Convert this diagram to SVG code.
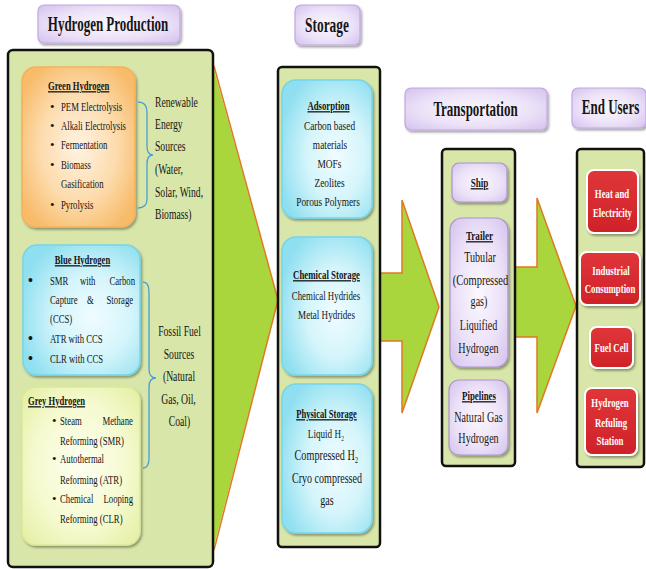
<svg xmlns="http://www.w3.org/2000/svg" width="646" height="569" viewBox="0 0 646 569">
<defs>
<filter id="sh" x="-20%" y="-20%" width="140%" height="140%"><feDropShadow dx="1.5" dy="2" stdDeviation="1.2" flood-color="#000" flood-opacity="0.35"/></filter>
<radialGradient id="gOr" cx="50%" cy="50%" r="60%"><stop offset="0" stop-color="#fff3e2"/><stop offset="0.55" stop-color="#fddcae"/><stop offset="1" stop-color="#f7bb6a"/></radialGradient>
<radialGradient id="gBl" cx="60%" cy="55%" r="65%"><stop offset="0" stop-color="#f0fcff"/><stop offset="0.5" stop-color="#d4f5fb"/><stop offset="1" stop-color="#8fdff0"/></radialGradient>
<radialGradient id="gGr" cx="50%" cy="50%" r="65%"><stop offset="0" stop-color="#fdfff0"/><stop offset="0.6" stop-color="#f5fad0"/><stop offset="1" stop-color="#e6f0a8"/></radialGradient>
<radialGradient id="gLv" cx="50%" cy="50%" r="65%"><stop offset="0" stop-color="#fbf7fe"/><stop offset="0.6" stop-color="#ece2f8"/><stop offset="1" stop-color="#d8c6ef"/></radialGradient>
<linearGradient id="gRd" x1="0" y1="0" x2="0" y2="1"><stop offset="0" stop-color="#e0363a"/><stop offset="1" stop-color="#cf2228"/></linearGradient>
<style>
.pn{fill:#d8e6a9;stroke:#111;stroke-width:2.5}
.ttl{fill:url(#gLv);stroke:#c0a9e0;stroke-width:1.2;filter:url(#sh)}
.or{fill:url(#gOr);stroke:#f5b25a;stroke-width:1.5;filter:url(#sh)}
.bl{fill:url(#gBl);stroke:#74d6ea;stroke-width:1.5;filter:url(#sh)}
.gr{fill:url(#gGr);stroke:#dce99a;stroke-width:1.5;filter:url(#sh)}
.lv{fill:url(#gLv);stroke:#a896c8;stroke-width:1.2;filter:url(#sh)}
.rd{fill:url(#gRd);stroke:#fff;stroke-width:2;filter:url(#sh)}
.af{fill:#a8d63c;stroke:none}
.as{fill:none;stroke:#e07a22;stroke-width:1.5;stroke-linejoin:miter}
.br{fill:none;stroke:#4a9fd2;stroke-width:1.3}
text{font-family:"Liberation Serif","Times New Roman",serif;fill:#151515}
.b{font-weight:bold}
.u{text-decoration:underline}
.c{text-anchor:middle}
.w{fill:#fff;font-weight:bold;font-size:13.5px}
.h{font-size:20px;font-weight:bold}
.s13{font-size:13px}
.s14{font-size:14px}
.s15{font-size:15px}
</style>
</defs>

<g id="connectors">
<polygon class="af" points="213,66 278,300 213,550"/>
<polyline class="as" points="214,66 278,300 214,550"/>
<polygon class="af" points="381,273 402,273 402,200 439,307 402,413 402,341 381,341"/>
<polyline class="as" points="381,273 402,273 402,200 439,307 402,413 402,341 381,341"/>
<polygon class="af" points="516,267 537,267 537,198 576,306 537,413 537,337 516,337"/>
<polyline class="as" points="516,267 537,267 537,198 576,306 537,413 537,337 516,337"/>
</g>

<g id="title-production">
<rect class="ttl" x="38" y="5" width="142" height="38" rx="6"/>
<text class="h c" transform="matrix(.65 0 0 1 108 31)">Hydrogen Production</text>
</g>
<g id="title-storage">
<rect class="ttl" x="295" y="5" width="65" height="40" rx="6"/>
<text class="h c" transform="matrix(.67 0 0 1 327 32)">Storage</text>
</g>
<g id="title-transportation">
<rect class="ttl" x="405" y="88" width="142" height="42" rx="6"/>
<text class="h c" transform="matrix(.65 0 0 1 475.5 116)">Transportation</text>
</g>
<g id="title-endusers">
<rect class="ttl" x="572" y="88" width="74" height="40" rx="6"/>
<text class="h c" transform="matrix(.65 0 0 1 610.5 114)">End Users</text>
</g>

<g id="panel-production">
<rect class="pn" x="8" y="50" width="205" height="517" rx="5"/>
</g>
<g id="panel-storage">
<rect class="pn" x="278" y="67" width="102" height="480" rx="4"/>
</g>
<g id="panel-transportation">
<rect class="pn" x="442" y="149" width="73" height="317" rx="4"/>
</g>
<g id="panel-endusers">
<rect class="pn" x="577" y="149" width="67" height="318" rx="4"/>
</g>

<g id="green-hydrogen">
<rect class="or" x="22" y="67" width="113" height="160" rx="14"/>
<text class="b u s13" transform="matrix(.66 0 0 1 48 90)">Green Hydrogen</text>
<text class="s13" x="50" y="111">•</text>
<text class="s13" x="50" y="130">•</text>
<text class="s13" x="50" y="149">•</text>
<text class="s13" x="50" y="169">•</text>
<text class="s13" x="50" y="209">•</text>
<text class="s13" transform="matrix(.67 0 0 1 61 111)">PEM Electrolysis</text>
<text class="s13" transform="matrix(.67 0 0 1 61 130)">Alkali Electrolysis</text>
<text class="s13" transform="matrix(.67 0 0 1 61 149)">Fermentation</text>
<text class="s13" transform="matrix(.67 0 0 1 61 169)">Biomass</text>
<text class="s13" transform="matrix(.67 0 0 1 61 188)">Gasification</text>
<text class="s13" transform="matrix(.67 0 0 1 61 209)">Pyrolysis</text>
</g>

<g id="renewable-sources">
<path class="br" d="M138,102 Q147,102 147,112 L147,146 Q147,155 153,155 Q147,155 147,164 L147,199 Q147,208 138,208"/>
<text class="s14" transform="matrix(.69 0 0 1 155 107)">Renewable</text>
<text class="s14" transform="matrix(.69 0 0 1 155 129)">Energy</text>
<text class="s14" transform="matrix(.69 0 0 1 155 151)">Sources</text>
<text class="s14" transform="matrix(.69 0 0 1 155 174)">(Water,</text>
<text class="s14" transform="matrix(.69 0 0 1 155 197)">Solar, Wind,</text>
<text class="s14" transform="matrix(.69 0 0 1 155 219)">Biomass)</text>
</g>

<g id="blue-hydrogen">
<rect class="bl" x="23" y="245" width="117" height="130" rx="14"/>
<text class="b u s13 c" transform="matrix(.66 0 0 1 82.5 264)">Blue Hydrogen</text>
<text class="b s14" x="28" y="285">•</text>
<text class="b s14" x="28" y="343">•</text>
<text class="b s14" x="28" y="363">•</text>
<text class="s13" transform="matrix(.67 0 0 1 0 285)"><tspan x="74.6">SMR</tspan> <tspan x="119.4">with</tspan> <tspan x="163.3">Carbon</tspan></text>
<text class="s13" transform="matrix(.67 0 0 1 0 304)"><tspan x="74.6">Capture</tspan> <tspan x="129.9">&amp;</tspan> <tspan x="159">Storage</tspan></text>
<text class="s13" transform="matrix(.67 0 0 1 50 323)">(CCS)</text>
<text class="s13" transform="matrix(.67 0 0 1 50 343)">ATR with CCS</text>
<text class="s13" transform="matrix(.67 0 0 1 50 363)">CLR with CCS</text>
</g>

<g id="grey-hydrogen">
<rect class="gr" x="22" y="387" width="118" height="158" rx="14"/>
<text class="b u s13" transform="matrix(.66 0 0 1 28 405)">Grey Hydrogen</text>
<text class="s13" x="52" y="425">•</text>
<text class="s13" x="52" y="463">•</text>
<text class="s13" x="52" y="503">•</text>
<text class="s13" transform="matrix(.67 0 0 1 0 425)"><tspan x="89.6">Steam</tspan> <tspan x="153">Methane</tspan></text>
<text class="s13" transform="matrix(.67 0 0 1 60 445)">Reforming (SMR)</text>
<text class="s13" transform="matrix(.67 0 0 1 60 463)">Autothermal</text>
<text class="s13" transform="matrix(.67 0 0 1 60 484)">Reforming (ATR)</text>
<text class="s13" transform="matrix(.67 0 0 1 0 503)"><tspan x="89.6">Chemical</tspan> <tspan x="154.5">Looping</tspan></text>
<text class="s13" transform="matrix(.67 0 0 1 60 523)">Reforming (CLR)</text>
</g>

<g id="fossil-sources">
<path class="br" d="M143,282 Q149,282 149,292 L149,369 Q149,378 156,378 Q149,378 149,387 L149,458 Q149,468 143,468"/>
<text class="s14 c" transform="matrix(.69 0 0 1 179.5 336)">Fossil Fuel</text>
<text class="s14 c" transform="matrix(.69 0 0 1 179 359)">Sources</text>
<text class="s14 c" transform="matrix(.69 0 0 1 179 381)">(Natural</text>
<text class="s14 c" transform="matrix(.69 0 0 1 178.5 404)">Gas, Oil,</text>
<text class="s14 c" transform="matrix(.69 0 0 1 179.5 426)">Coal)</text>
</g>

<g id="adsorption">
<rect class="bl" x="282" y="80" width="90" height="138" rx="14"/>
<text class="b u s13 c" transform="matrix(.67 0 0 1 328.5 110)">Adsorption</text>
<text class="s13 c" transform="matrix(.72 0 0 1 329.5 130)">Carbon based</text>
<text class="s13 c" transform="matrix(.72 0 0 1 330 149)">materials</text>
<text class="s13 c" transform="matrix(.72 0 0 1 329.5 168)">MOFs</text>
<text class="s13 c" transform="matrix(.72 0 0 1 329.5 187)">Zeolites</text>
<text class="s13 c" transform="matrix(.72 0 0 1 328 206)">Porous Polymers</text>
</g>

<g id="chemical-storage">
<rect class="bl" x="282" y="237" width="90" height="138" rx="14"/>
<text class="b u s13 c" transform="matrix(.68 0 0 1 326.5 279)">Chemical Storage</text>
<text class="s13 c" transform="matrix(.68 0 0 1 326 300)">Chemical Hydrides</text>
<text class="s13 c" transform="matrix(.7 0 0 1 326.5 319)">Metal Hydrides</text>
</g>

<g id="physical-storage">
<rect class="bl" x="282" y="384" width="90" height="149" rx="14"/>
<text class="b u s13 c" transform="matrix(.66 0 0 1 326.5 418)">Physical Storage</text>
<text class="s13 c" transform="matrix(.7 0 0 1 326 438)">Liquid H₂</text>
<text class="s15 c" transform="matrix(.68 0 0 1 326.5 460)">Compressed H₂</text>
<text class="s15 c" transform="matrix(.67 0 0 1 327 483)">Cryo compressed</text>
<text class="s15 c" transform="matrix(.67 0 0 1 327 505)">gas</text>
</g>

<g id="ship">
<rect class="lv" x="452" y="163" width="55" height="39" rx="7"/>
<text class="b u s13 c" transform="matrix(.7 0 0 1 479.5 187)">Ship</text>
</g>
<g id="trailer">
<rect class="lv" x="450" y="218" width="58" height="149" rx="12"/>
<text class="b u s13 c" transform="matrix(.7 0 0 1 479.5 240)">Trailer</text>
<text class="s14 c" transform="matrix(.72 0 0 1 480 262)">Tubular</text>
<text class="s14 c" transform="matrix(.75 0 0 1 480.5 285)">(Compressed</text>
<text class="s14 c" transform="matrix(.72 0 0 1 479 306)">gas)</text>
<text class="s14 c" transform="matrix(.72 0 0 1 478.5 330)">Liquified</text>
<text class="s14 c" transform="matrix(.72 0 0 1 478.5 353)">Hydrogen</text>
</g>
<g id="pipelines">
<rect class="lv" x="449" y="380" width="59" height="75" rx="10"/>
<text class="b u s13 c" transform="matrix(.68 0 0 1 479 400)">Pipelines</text>
<text class="s14 c" transform="matrix(.72 0 0 1 478.5 422)">Natural Gas</text>
<text class="s14 c" transform="matrix(.72 0 0 1 478.5 443)">Hydrogen</text>
</g>

<g id="heat-electricity">
<rect class="rd" x="587" y="170" width="51" height="63" rx="7"/>
<text class="w c" transform="matrix(.65 0 0 1 612 198)">Heat and</text>
<text class="w c" transform="matrix(.65 0 0 1 612.5 217)">Electricity</text>
</g>
<g id="industrial">
<rect class="rd" x="580" y="252" width="60" height="53" rx="7"/>
<text class="w c" transform="matrix(.65 0 0 1 611 275)">Industrial</text>
<text class="w c" transform="matrix(.65 0 0 1 610 293)">Consumption</text>
</g>
<g id="fuel-cell">
<rect class="rd" x="590" y="327" width="43" height="41" rx="7"/>
<text class="w c" transform="matrix(.65 0 0 1 611.5 352)">Fuel Cell</text>
</g>
<g id="refueling">
<rect class="rd" x="585" y="388" width="52" height="67" rx="7"/>
<text class="w c" transform="matrix(.65 0 0 1 610 407)">Hydrogen</text>
<text class="w c" transform="matrix(.65 0 0 1 611 427)">Refuling</text>
<text class="w c" transform="matrix(.65 0 0 1 610 445)">Station</text>
</g>
</svg>
